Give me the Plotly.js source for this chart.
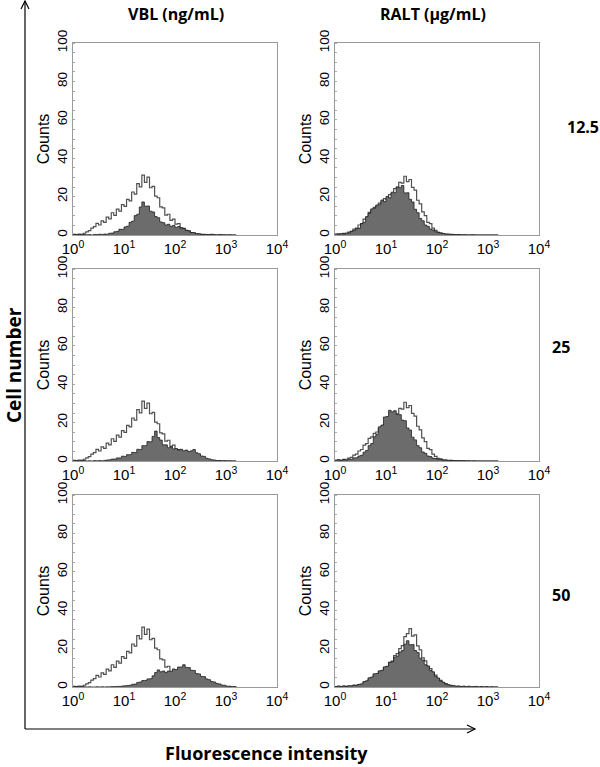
<!DOCTYPE html>
<html>
<head>
<meta charset="utf-8">
<script src="https://cdn.plot.ly/plotly-3.0.1.min.js"></script>
<style>html,body{margin:0;padding:0;background:#fff;}#chart{width:600px;height:767px;}</style>
</head>
<body>
<div id="chart"></div>
<script>
// log10 of fluorescence channel (bin start)
const logChannel = [
0.00,0.05,0.10,0.15,0.20,0.25,0.30,0.35,0.40,0.45,
0.50,0.55,0.60,0.65,0.70,0.75,0.80,0.85,0.90,0.95,
1.00,1.05,1.10,1.15,1.20,1.25,1.30,1.35,1.40,1.45,
1.50,1.55,1.60,1.65,1.70,1.75,1.80,1.85,1.90,1.95,
2.00,2.05,2.10,2.15,2.20,2.25,2.30,2.35,2.40,2.45,
2.50,2.55,2.60,2.65,2.70,2.75,2.80,2.85,2.90,2.95,
3.00,3.05,3.10,3.15,3.20];

// control (open histogram) counts
const ctrlVbl = [
0.4,0.2,0.5,0.3,0.9,1.6,2.3,3.6,4.4,6.1,
5.2,7.4,6.6,9.3,8.4,11.6,10.2,13.5,12.4,15.8,
14.9,18.6,17.8,22.4,21.3,26.8,25.1,31.2,27.4,30.1,
24.6,25.3,20.2,19.4,14.6,14.1,10.4,10.8,7.6,8.3,
5.7,5.9,3.8,3.5,2.4,2.1,1.2,1.0,0.6,0.5,
0.3,0.4,0.2,0.1,0.3,0.1,0.0,0.2,0.0,0.1,
0.0,0.1,0.0,0.0,0.0];
const ctrlRalt = [
0.4,0.6,0.4,0.8,0.9,1.5,1.9,3.1,3.6,5.2,
6.0,8.3,9.1,11.8,12.6,14.4,15.1,16.6,17.2,18.9,
18.6,21.0,21.6,24.2,24.6,27.4,27.0,30.6,27.8,28.9,
24.8,23.4,18.1,16.2,12.0,10.1,6.6,5.9,3.6,2.4,
1.4,1.1,0.6,0.5,0.3,0.4,0.2,0.1,0.2,0.1,
0.0,0.1,0.0,0.0,0.1,0.0,0.0,0.0,0.0,0.0,
0.0,0.0,0.0,0.0,0.0];
const ctrlRalt50 = [
0.2,0.3,0.2,0.4,0.3,0.5,0.5,0.8,0.8,1.2,
1.4,2.4,2.9,4.3,4.9,6.4,6.6,8.0,8.4,10.1,
10.6,12.9,13.5,16.4,17.4,20.0,21.6,26.2,27.8,30.4,
26.5,27.2,21.4,19.3,15.2,13.6,10.8,9.6,7.0,6.2,
4.2,3.5,2.2,1.8,1.0,0.8,0.5,0.4,0.3,0.2,
0.2,0.1,0.1,0.0,0.1,0.0,0.0,0.1,0.0,0.0,
0.0,0.0,0.0,0.0,0.0];

// treated (filled histogram) counts
const vbl12 = [
0.3,0.0,0.2,0.0,0.3,0.1,0.2,0.0,0.3,0.2,
0.4,0.3,0.5,0.4,0.9,1.0,1.7,1.9,3.0,2.9,
4.2,4.6,6.6,7.2,10.1,10.8,14.6,17.2,15.0,15.1,
12.4,12.0,9.6,9.0,6.8,6.4,5.2,5.6,4.5,5.0,
4.0,4.4,3.3,3.4,2.4,2.1,1.3,1.2,0.7,0.6,
0.3,0.2,0.1,0.2,0.0,0.1,0.0,0.0,0.1,0.0,
0.0,0.0,0.0,0.0,0.0];
const ralt12 = [
0.5,0.4,0.7,0.5,0.9,1.1,1.9,2.3,3.2,3.6,
5.9,6.6,9.6,11.2,13.6,13.9,15.6,15.8,18.2,17.4,
20.1,19.4,22.3,22.0,25.1,24.6,25.8,21.9,22.0,18.6,
17.2,13.4,11.6,8.6,7.4,5.2,4.5,3.1,2.6,1.7,
1.4,0.9,0.8,0.4,0.5,0.2,0.3,0.1,0.2,0.0,
0.1,0.0,0.0,0.1,0.0,0.0,0.0,0.0,0.0,0.0,
0.0,0.0,0.0,0.0,0.0];
const vbl25 = [
0.2,0.0,0.1,0.0,0.2,0.0,0.1,0.0,0.2,0.1,
0.2,0.1,0.3,0.5,0.6,1.0,1.0,1.6,1.6,2.5,
2.4,3.3,3.3,4.5,4.4,6.1,6.0,8.0,8.0,10.1,
10.0,12.8,15.6,12.2,10.9,8.4,8.4,6.9,7.3,6.3,
6.5,5.7,6.1,5.3,5.7,4.9,5.3,6.0,4.3,3.8,
2.6,2.4,1.4,1.1,0.6,0.5,0.2,0.2,0.0,0.1,
0.0,0.0,0.0,0.0,0.0];
const ralt25 = [
0.4,0.6,0.3,0.7,0.4,0.9,0.9,1.6,1.7,2.6,
3.0,4.6,5.5,8.0,9.1,12.6,13.9,17.8,18.7,22.9,
23.2,26.4,25.6,26.2,24.3,24.1,21.3,21.0,17.2,16.1,
12.4,11.0,8.0,6.9,4.7,4.0,2.6,2.3,1.5,1.3,
0.8,0.8,0.4,0.5,0.2,0.3,0.2,0.2,0.0,0.1,
0.2,0.0,0.1,0.0,0.0,0.0,0.0,0.0,0.0,0.0,
0.0,0.0,0.0,0.0,0.0];
const vbl50 = [
0.2,0.0,0.1,0.0,0.1,0.0,0.1,0.0,0.0,0.1,
0.0,0.1,0.0,0.1,0.1,0.2,0.2,0.3,0.3,0.5,
0.6,0.8,0.9,1.4,1.5,2.4,2.6,3.4,3.4,4.2,
4.3,5.8,7.5,8.9,7.9,8.3,7.5,8.3,8.2,9.4,
9.1,10.4,10.4,11.6,10.2,10.1,8.7,8.6,7.0,6.8,
5.5,5.4,4.2,3.8,2.8,2.6,1.8,1.6,1.0,0.9,
0.4,0.4,0.1,0.2,0.0];
const ralt50 = [
0.3,0.5,0.2,0.6,0.3,0.6,0.6,1.0,0.9,1.4,
1.6,2.8,3.2,4.8,5.2,6.9,7.0,8.4,8.7,10.5,
10.8,12.8,13.1,15.6,16.1,18.2,19.0,22.3,24.1,22.0,
22.1,19.0,18.0,15.0,14.0,11.6,10.9,8.6,7.9,5.5,
4.7,3.0,2.5,1.5,1.2,0.7,0.7,0.4,0.5,0.2,
0.5,0.1,0.4,0.1,0.2,0.3,0.0,0.2,0.0,0.2,
0.0,0.1,0.0,0.0,0.0];

const columnTitles = ['VBL (ng/mL)', 'RALT (\u03bcg/mL)'];
const rowLabels = ['12.5', '25', '50'];
const xTickVals = [1, 10, 100, 1000, 10000];
const xTickText = ['10<sup>0</sup>','10<sup>1</sup>','10<sup>2</sup>','10<sup>3</sup>','10<sup>4</sup>'];
const yTickVals = [0, 20, 40, 60, 80, 100];

const W = 600, H = 767;
const px = v => v / W;
const py = v => 1 - v / H;

const channelX = logChannel.map(v => Math.pow(10, v));

const panels = [
  {treated: vbl12, control: ctrlVbl, col: 0, row: 0},
  {treated: ralt12, control: ctrlRalt, col: 1, row: 0},
  {treated: vbl25, control: ctrlVbl, col: 0, row: 1},
  {treated: ralt25, control: ctrlRalt, col: 1, row: 1},
  {treated: vbl50, control: ctrlVbl, col: 0, row: 2},
  {treated: ralt50, control: ctrlRalt50, col: 1, row: 2}
];

const colPx = [[73, 277], [335, 539]];
const rowPx = [[43, 235], [269, 461], [495, 687]];

const sans = 'Liberation Sans, Arial, sans-serif';
const xTickFont = {family: sans, size: 15, color: '#000'};
const yTickFont = {family: sans, size: 13.5, color: '#000'};
const traces = [];
const layout = {
  width: W, height: H,
  margin: {l: 0, r: 0, t: 0, b: 0},
  paper_bgcolor: '#fff', plot_bgcolor: '#fff',
  showlegend: false,
  annotations: [], shapes: []
};

panels.forEach((p, i) => {
  const n = i + 1;
  const sfx = n === 1 ? '' : String(n);
  const xa = 'x' + sfx, ya = 'y' + sfx;
  traces.push({
    x: channelX, y: p.control, xaxis: xa, yaxis: ya,
    type: 'scatter', mode: 'lines',
    line: {shape: 'hv', color: '#505050', width: 1.2},
    hoverinfo: 'skip'
  });
  traces.push({
    x: channelX, y: p.treated, xaxis: xa, yaxis: ya,
    type: 'scatter', mode: 'lines', fill: 'tozeroy',
    fillcolor: '#6c6c6c',
    line: {shape: 'hv', color: '#1e1e1e', width: 0.8},
    hoverinfo: 'skip'
  });
  const cx = colPx[p.col], ry = rowPx[p.row];
  layout['xaxis' + sfx] = {
    type: 'log', range: [0, 4], domain: [px(cx[0]), px(cx[1])],
    anchor: ya, tickvals: xTickVals, ticktext: xTickText,
    tickfont: xTickFont, ticks: '', showgrid: false, zeroline: false,
    showline: true, mirror: true, linecolor: '#9a9a9a', linewidth: 1
  };
  layout['yaxis' + sfx] = {
    range: [0, 100], domain: [py(ry[1]), py(ry[0])],
    anchor: xa, tickvals: yTickVals, tickangle: -90,
    tickfont: yTickFont, ticks: '', showgrid: false, zeroline: false,
    showline: true, mirror: true, linecolor: '#9a9a9a', linewidth: 1,
    minor: {ticks: 'inside', dtick: 5, ticklen: 2, tickcolor: '#aaa', showgrid: false},
    title: {text: 'Counts', standoff: 0, font: {family: sans, size: 16, color: '#000'}}
  };
});

const boldFont = s => ({family: 'Open Sans, Lato, sans-serif', size: s, color: '#000'});
const ann = (text, x, y, size, extra) => Object.assign({
  text: '<b>' + text + '</b>', x: px(x), y: py(y), xref: 'paper', yref: 'paper',
  showarrow: false, xanchor: 'center', yanchor: 'middle', font: boldFont(size)
}, extra || {});

layout.annotations.push(ann(columnTitles[0], 176, 14, 16));
layout.annotations.push(ann(columnTitles[1], 433, 14, 16));
layout.annotations.push(ann(rowLabels[0], 583, 127, 16));
layout.annotations.push(ann(rowLabels[1], 561, 347, 16));
layout.annotations.push(ann(rowLabels[2], 561, 595, 16));
layout.annotations.push(ann('Cell number', 14, 365, 19, {textangle: -90}));
layout.annotations.push(ann('Fluorescence intensity', 266, 753, 18));

const lineStyle = {color: '#000', width: 1.2};
layout.shapes.push({type: 'line', xref: 'paper', yref: 'paper', x0: px(25), x1: px(25), y0: py(729), y1: py(1), line: lineStyle});
layout.shapes.push({type: 'line', xref: 'paper', yref: 'paper', x0: px(25), x1: px(475), y0: py(729), y1: py(729), line: lineStyle});
layout.shapes.push({type: 'path', xref: 'paper', yref: 'paper',
  path: `M ${px(21)} ${py(9)} L ${px(25)} ${py(1)} L ${px(29)} ${py(9)}`, line: lineStyle});
layout.shapes.push({type: 'path', xref: 'paper', yref: 'paper',
  path: `M ${px(467)} ${py(725)} L ${px(475)} ${py(729)} L ${px(467)} ${py(733)}`, line: lineStyle});

Plotly.newPlot('chart', traces, layout, {staticPlot: true, displayModeBar: false});
</script>
</body>
</html>
